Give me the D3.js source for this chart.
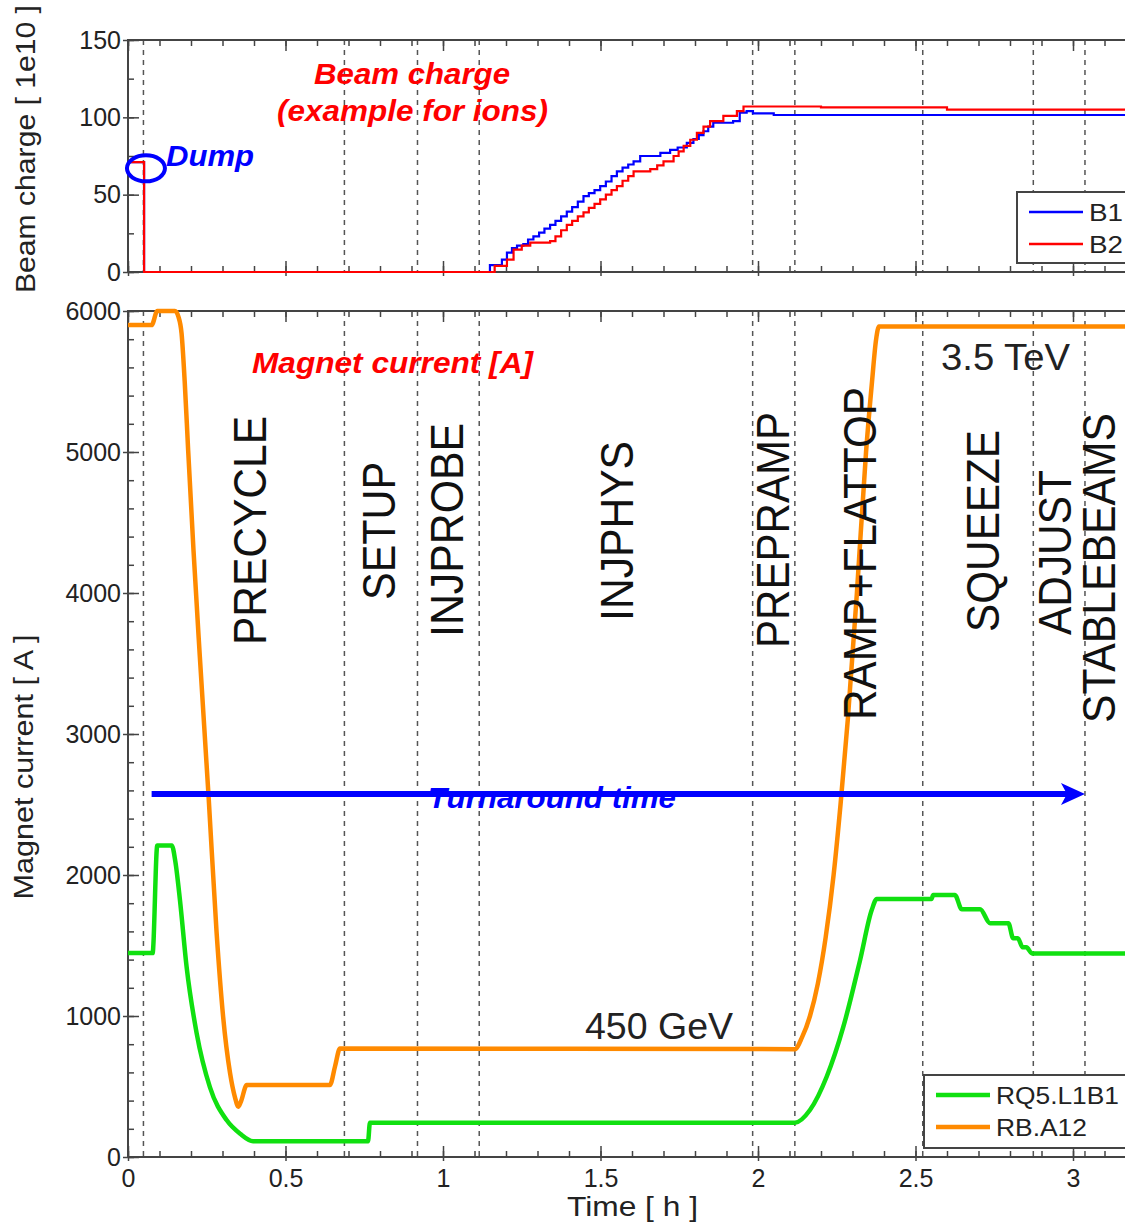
<!DOCTYPE html>
<html>
<head>
<meta charset="utf-8">
<script src="https://cdn.jsdelivr.net/npm/d3@7"></script>
<style>
  body { margin: 0; background: #fff; }
  svg { display: block; font-family: 'Liberation Sans', Arial, sans-serif; }
</style>
</head>
<body>
<div id="chart"></div>
<script>
// time in hours, beam charge in 1e10, current in A
const beamB1 = [
  [0, 71], [0.051, 0], [1.149, 4.5], [1.187, 8], [1.203, 12.5], [1.219, 15.5], [1.235, 17], [1.255, 18],
  [1.270, 21], [1.287, 23], [1.305, 25.5], [1.322, 28], [1.340, 30.5], [1.357, 33], [1.375, 36],
  [1.393, 39], [1.410, 42], [1.428, 45.5], [1.446, 49], [1.463, 51], [1.481, 53], [1.499, 55.5],
  [1.517, 58.5], [1.535, 62], [1.552, 65], [1.570, 67.5], [1.588, 69.5], [1.605, 71.5], [1.626, 75],
  [1.668, 75], [1.690, 77], [1.721, 79], [1.745, 80.5], [1.774, 83.5], [1.795, 86], [1.812, 88.5],
  [1.827, 91], [1.842, 94], [1.858, 96.5], [1.921, 97.5], [1.942, 103], [1.964, 104], [1.984, 102.5],
  [2.05, 101.5], [2.6, 101.5], [3.2, 101]
]
const beamB2 = [
  [0, 71], [0.051, 0], [1.164, 4], [1.203, 8], [1.224, 14.5], [1.250, 17], [1.277, 19], [1.340, 20],
  [1.357, 23], [1.375, 27], [1.393, 30.5], [1.410, 33], [1.428, 36], [1.446, 38.5], [1.463, 41.5],
  [1.481, 44], [1.499, 47], [1.517, 50], [1.535, 53], [1.552, 55.5], [1.570, 59], [1.588, 62],
  [1.605, 65], [1.658, 66.5], [1.680, 69], [1.700, 71.5], [1.732, 75], [1.748, 78], [1.764, 81.5],
  [1.785, 85.5], [1.806, 90], [1.827, 94], [1.848, 97.5], [1.890, 101], [1.933, 104], [1.954, 107],
  [2.2, 106.5], [2.6, 105], [3.2, 104.5]
]
const rqCurrent = [
  [0, 1446], [0.078, 1446], [0.093, 2210], [0.139, 2210], [0.150, 2100], [0.165, 1821], [0.186, 1349],
  [0.218, 877], [0.260, 496], [0.313, 262], [0.356, 165], [0.397, 112], [0.762, 112], [0.768, 243],
  [2.117, 243], [2.165, 333], [2.218, 569], [2.271, 924], [2.324, 1396], [2.361, 1751], [2.377, 1830],
  [2.551, 1830], [2.556, 1858], [2.625, 1858], [2.647, 1757], [2.705, 1757], [2.737, 1657],
  [2.795, 1657], [2.810, 1551], [2.825, 1551], [2.840, 1487], [2.852, 1487], [2.870, 1444], [3.2, 1444]
]
const rbCurrent = [
  [0, 5900], [0.075, 5900], [0.093, 6000], [0.149, 6000], [0.160, 5960], [0.170, 5842], [0.180, 5500],
  [0.191, 5011], [0.208, 4300], [0.228, 3550], [0.256, 2550], [0.281, 1600], [0.302, 995], [0.324, 595],
  [0.340, 420], [0.350, 357], [0.358, 390], [0.377, 510], [0.641, 510], [0.657, 640], [0.673, 770],
  [2.117, 765], [2.140, 850], [2.165, 1000], [2.190, 1230], [2.215, 1560], [2.240, 2000], [2.262, 2500],
  [2.285, 3100], [2.314, 4000], [2.343, 5000], [2.362, 5500], [2.375, 5800], [2.384, 5890], [3.2, 5890]
]
const phaseBounds = [0.049, 0.687, 0.919, 1.115, 1.983, 2.117, 2.523, 2.874, 3.038]
const phaseNames = ['PRECYCLE', 'SETUP', 'INJPROBE', 'INJPHYS', 'PREPRAMP', 'RAMP+FLATTOP', 'SQUEEZE', 'ADJUST', 'STABLEBEAMS']
const phaseLabelT = [0.383, 0.795, 1.011, 1.549, 2.044, 2.321, 2.710, 2.940, 3.079]
const turnaround = [0.075, 3.038]
const xTicks = [0, 0.5, 1, 1.5, 2, 2.5, 3]
const beamTicks = [0, 50, 100, 150]
const magTicks = [0, 1000, 2000, 3000, 4000, 5000, 6000]

const width = 1125
const height = 1224
const left = 128
const right = 1136
const top1 = 40, bot1 = 272, top2 = 311, bot2 = 1157
const font = "'Liberation Sans', Arial, sans-serif"

const svg = d3.select('#chart').append('svg')
  .attr('width', width)
  .attr('height', height)

const x = d3.scaleLinear().domain([0, 3.2]).range([left, right])
const yBeam = d3.scaleLinear().domain([0, 150]).range([bot1, top1])
const yMag = d3.scaleLinear().domain([0, 6000]).range([bot2, top2])

const xMinor = d3.range(0, 3.21, 0.1)

const tickStyle = g => g
  .call(g => g.select('.domain').remove())
  .call(g => g.selectAll('line').attr('stroke', '#444').attr('stroke-width', 1.5))
  .attr('font-size', 25)
  .attr('font-family', font)
  .call(g => g.selectAll('text').attr('fill', '#222'))

const panel = (y, major, minor, showX) => {
  const [b, t] = y.range()
  // phase boundaries
  svg.append('g')
    .selectAll('line')
    .data(phaseBounds)
    .join('line')
    .attr('x1', d => x(d))
    .attr('x2', d => x(d))
    .attr('y1', t)
    .attr('y2', b)
    .attr('stroke', '#555')
    .attr('stroke-width', 1.5)
    .attr('stroke-dasharray', '5,5')

  svg.append('g').attr('transform', `translate(0,${b})`)
    .call(d3.axisBottom(x).tickValues(xMinor).tickSize(-6).tickFormat('')).call(tickStyle)
  svg.append('g').attr('transform', `translate(0,${t})`)
    .call(d3.axisTop(x).tickValues(xMinor).tickSize(-6).tickFormat('')).call(tickStyle)
  svg.append('g').attr('transform', `translate(0,${b})`)
    .call(d3.axisBottom(x).tickValues(xTicks).tickSize(-11).tickFormat('')).call(tickStyle)
  svg.append('g').attr('transform', `translate(0,${t})`)
    .call(d3.axisTop(x).tickValues(xTicks).tickSize(-11).tickFormat('')).call(tickStyle)
  svg.append('g').attr('transform', `translate(0,${b})`)
    .call(d3.axisBottom(x).tickValues(xTicks).tickSize(4).tickPadding(8).tickFormat(showX ? d => d : ''))
    .call(tickStyle)

  svg.append('g').attr('transform', `translate(${left},0)`)
    .call(d3.axisLeft(y).tickValues(minor).tickSize(-6).tickFormat('')).call(tickStyle)
  svg.append('g').attr('transform', `translate(${left},0)`)
    .call(d3.axisLeft(y).tickValues(major).tickSize(-11).tickFormat('')).call(tickStyle)
  svg.append('g').attr('transform', `translate(${left},0)`)
    .call(d3.axisLeft(y).tickValues(major).tickSize(5).tickPadding(2).tickFormat(d => d))
    .call(tickStyle)
  svg.append('g').attr('transform', `translate(${right},0)`)
    .call(d3.axisRight(y).tickValues(major).tickSize(-11).tickFormat('')).call(tickStyle)

  svg.append('rect')
    .attr('x', left)
    .attr('y', t)
    .attr('width', right - left)
    .attr('height', b - t)
    .attr('fill', 'none')
    .attr('stroke', '#444')
    .attr('stroke-width', 2)
}

panel(yBeam, beamTicks, d3.range(0, 151, 25), false)
panel(yMag, magTicks, d3.range(0, 6001, 200), true)

// beam charge
const beamLine = d3.line()
  .x(d => x(d[0]))
  .y(d => yBeam(d[1]))
  .curve(d3.curveStepAfter)

svg.append('path')
  .datum(beamB1)
  .attr('d', beamLine)
  .attr('stroke', '#0000ff')
  .attr('stroke-width', 2.2)
  .attr('fill', 'none')

svg.append('path')
  .datum(beamB2)
  .attr('d', beamLine)
  .attr('stroke', '#ff0000')
  .attr('stroke-width', 2.2)
  .attr('fill', 'none')

// magnet currents
const magLine = d3.line()
  .x(d => x(d[0]))
  .y(d => yMag(d[1]))
  .curve(d3.curveMonotoneX)

svg.append('path')
  .datum(rqCurrent)
  .attr('d', magLine)
  .attr('stroke', '#10e010')
  .attr('stroke-width', 4.5)
  .attr('fill', 'none')

svg.append('path')
  .datum(rbCurrent)
  .attr('d', magLine)
  .attr('stroke', '#ff8a00')
  .attr('stroke-width', 4.5)
  .attr('fill', 'none')

// phase names
const phaseLayout = [
  { amp: 4443, len: 229 }, { amp: 4440, len: 138 }, { amp: 4447, len: 214 },
  { amp: 4440, len: 180 }, { amp: 4447, len: 236 }, { amp: 4280, len: 333 },
  { amp: 4440, len: 202 }, { amp: 4287, len: 165 }, { amp: 4177, len: 310 }
]
svg.append('g')
  .selectAll('text')
  .data(phaseNames)
  .join('text')
  .attr('transform', (d, i) => `translate(${x(phaseLabelT[i]) + 17},${yMag(phaseLayout[i].amp)}) rotate(-90)`)
  .attr('text-anchor', 'middle')
  .attr('font-size', 47)
  .attr('font-family', font)
  .attr('textLength', (d, i) => phaseLayout[i].len)
  .attr('lengthAdjust', 'spacingAndGlyphs')
  .attr('fill', '#111')
  .text(d => d)

// energy labels
const plain = (txt, px, py, size, len) => svg.append('text')
  .attr('x', px)
  .attr('y', py)
  .attr('font-size', size)
  .attr('font-family', font)
  .attr('textLength', len)
  .attr('lengthAdjust', 'spacingAndGlyphs')
  .attr('fill', '#222')
  .text(txt)

plain('3.5 TeV', 941, 370, 36, 129)
plain('450 GeV', 585, 1039, 36, 148)

// axis titles
const vtitle = (txt, px, py, len) => svg.append('text')
  .attr('transform', `translate(${px},${py}) rotate(-90)`)
  .attr('text-anchor', 'middle')
  .attr('font-size', 27)
  .attr('font-family', font)
  .attr('textLength', len)
  .attr('lengthAdjust', 'spacingAndGlyphs')
  .attr('fill', '#222')
  .text(txt)

vtitle('Beam charge [ 1e10 ]', 35, 149, 288)
vtitle('Magnet current [ A ]', 33, 767, 265)
plain('Time [ h ]', 567, 1216, 28, 131)

// legends
const legend = (items, lx, ly, w, h, sw, lab) => {
  const g = svg.append('g')
  g.append('rect')
    .attr('x', lx).attr('y', ly).attr('width', w).attr('height', h)
    .attr('fill', '#fff').attr('stroke', '#444').attr('stroke-width', 2)
  items.forEach((it, i) => {
    const cy = ly + 20 + i * 32
    g.append('line')
      .attr('x1', lx + 12).attr('x2', lx + 66)
      .attr('y1', cy).attr('y2', cy)
      .attr('stroke', it.color).attr('stroke-width', sw)
    g.append('text')
      .attr('x', lx + 72).attr('y', cy + 9)
      .attr('font-size', 24).attr('font-family', font)
      .attr('textLength', lab[i])
      .attr('lengthAdjust', 'spacingAndGlyphs')
      .attr('fill', '#222')
      .text(it.name)
  })
}
legend([{ name: 'B1', color: '#0000ff' }, { name: 'B2', color: '#ff0000' }], 1017, 192, 130, 71, 2.5, [34, 34])
legend([{ name: 'RQ5.L1B1', color: '#10e010' }, { name: 'RB.A12', color: '#ff8a00' }], 924, 1075, 220, 73, 4.5, [123, 91])

// annotations
const note = (txt, px, py, size, len, color) => svg.append('text')
  .attr('x', px)
  .attr('y', py)
  .attr('font-size', size)
  .attr('font-family', font)
  .attr('font-weight', 'bold')
  .attr('font-style', 'italic')
  .attr('textLength', len)
  .attr('lengthAdjust', 'spacingAndGlyphs')
  .attr('fill', color)
  .text(txt)

note('Beam charge', 314, 84, 29, 196, '#ff0000')
note('(example for ions)', 277, 121, 29, 271, '#ff0000')
note('Magnet current [A]', 252, 373, 29, 281, '#ff0000')
note('Dump', 166, 166, 29, 88, '#0000ff')
note('Turnaround time', 428, 808, 30, 248, '#0000ff')

svg.append('ellipse')
  .attr('cx', x(0.057))
  .attr('cy', yBeam(67))
  .attr('rx', 19)
  .attr('ry', 13)
  .attr('fill', 'none')
  .attr('stroke', '#0000ff')
  .attr('stroke-width', 4)

const ay = yMag(2574)
const ax1 = x(turnaround[1])
svg.append('line')
  .attr('x1', x(turnaround[0]))
  .attr('x2', ax1 - 12)
  .attr('y1', ay)
  .attr('y2', ay)
  .attr('stroke', '#0000ff')
  .attr('stroke-width', 6)
svg.append('path')
  .attr('d', `M${ax1},${ay} L${ax1 - 24},${ay - 11} L${ax1 - 18},${ay} L${ax1 - 24},${ay + 11} Z`)
  .attr('fill', '#0000ff')
</script>
</body>
</html>
